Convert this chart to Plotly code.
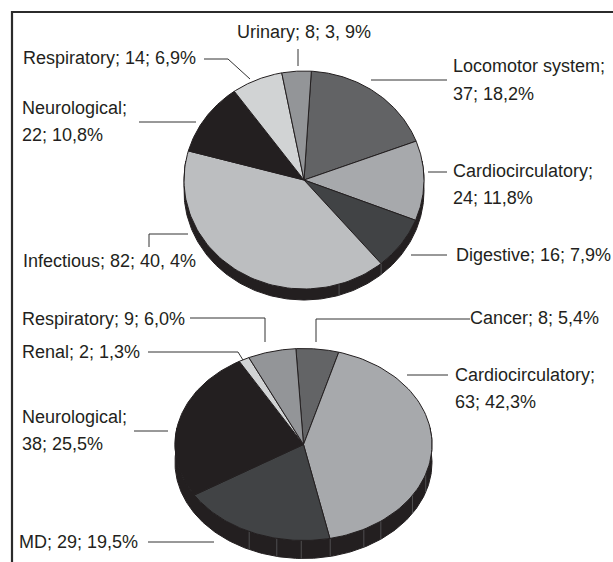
import numpy as np
import plotly.graph_objects as go

# --- data ---
top_names = ["Locomotor system", "Cardiocirculatory", "Digestive", "Infectious",
             "Neurological", "Respiratory", "Urinary"]
top_counts = [37, 24, 16, 82, 22, 14, 8]
top_colors = ["#626365", "#a7a9ac", "#414345", "#bcbec0", "#231f20", "#d1d3d4", "#939598"]

bottom_names = ["Cancer", "Cardiocirculatory", "MD", "Neurological", "Renal", "Respiratory"]
bottom_counts = [8, 63, 29, 38, 2, 9]
bottom_colors = ["#636466", "#a7a9ac", "#414345", "#231f20", "#d1d3d4", "#939598"]

label_text = ["Respiratory; 14; 6,9%", "Neurological;", "22; 10,8%", "Infectious; 82; 40, 4%",
              "Urinary; 8; 3, 9%", "Locomotor system;", "37; 18,2%", "Cardiocirculatory;",
              "24; 11,8%", "Digestive; 16; 7,9%",
              "Respiratory; 9; 6,0%", "Renal; 2; 1,3%", "Neurological;", "38; 25,5%",
              "MD; 29; 19,5%", "Cancer; 8; 5,4%", "Cardiocirculatory;", "63; 42,3%"]
label_x = [23, 22, 22, 23, 237, 453, 453, 453, 453, 456, 22, 22, 22, 22, 19, 470, 455, 455]
label_y = [59, 109, 136, 262, 33, 67, 95, 172, 199, 256, 320, 353, 418, 445, 543, 319, 376, 403]

leaders = [
    ([204, 228, 250], [59, 59, 79]),
    ([298, 298], [49, 66]),
    ([371, 447], [80, 80]),
    ([428, 447], [172, 172]),
    ([411, 447], [255, 255]),
    ([139, 196], [122, 122]),
    ([149, 149, 188], [247, 234, 234]),
    ([190, 265, 265], [318, 318, 342]),
    ([316, 316, 470], [342, 319, 319]),
    ([148, 238, 243], [352, 352, 360]),
    ([134, 168], [431, 431]),
    ([148, 214], [542, 542]),
    ([407, 448], [375, 375]),
]

INK = "#231f20"
fig = go.Figure()


def add_pie(names, counts, colors, cx, cy, rx, ry, depth, start_deg, seams):
    total = sum(counts)
    fracs = np.cumsum([0] + list(counts)) / total
    edges = start_deg + fracs * 360.0

    def pt(a, dz=0.0):
        r = np.radians(a)
        return cx + rx * np.sin(r), cy - ry * np.cos(r) + dz

    # side wall: the front half of the ellipse, dropped by depth
    a = np.linspace(80, 280, 200)
    x0, y0 = pt(a)
    x1, y1 = pt(a, depth)
    fig.add_trace(go.Scatter(
        x=np.r_[x0, x1[::-1], x0[0]], y=np.r_[y0, y1[::-1], y0[0]],
        mode="lines", fill="toself", fillcolor=INK,
        line=dict(color=INK, width=1), hoverinfo="skip", showlegend=False))
    # seams on the wall
    for s in seams:
        xa, ya = pt(s)
        xb, yb = pt(s, depth)
        fig.add_trace(go.Scatter(x=[xa, xb], y=[ya, yb], mode="lines",
                                 line=dict(color="#6d6e71", width=0.6),
                                 hoverinfo="skip", showlegend=False))
    # top face
    for i, name in enumerate(names):
        a = np.linspace(edges[i], edges[i + 1], 80)
        x, y = pt(a)
        fig.add_trace(go.Scatter(
            x=np.r_[cx, x, cx], y=np.r_[cy, y, cy], mode="lines", fill="toself",
            fillcolor=colors[i], line=dict(color=INK, width=1),
            name=name, text=f"{name}: {counts[i]}", hoverinfo="text", showlegend=False))


add_pie(top_names, top_counts, top_colors, 304, 180, 120, 109, 11, 3.5, [140, 163])
add_pie(bottom_names, bottom_counts, bottom_colors, 303.5, 444.5, 128.5, 96, 18, -3.4,
        [108, 122, 143, 152, 168, 181, 192, 205])

fig.add_trace(go.Scatter(
    x=label_x, y=label_y, text=label_text, mode="text", textposition="middle right",
    textfont=dict(family="Liberation Sans Narrow, Liberation Sans, sans-serif", size=18, color=INK),
    hoverinfo="skip", showlegend=False))

shapes = [
    dict(type="line", x0=11.5, x1=613, y0=12, y1=12, line=dict(color="#2b2b2b", width=2.2)),
    dict(type="line", x0=12, x1=12, y0=11, y1=562, line=dict(color="#2b2b2b", width=2.2)),
]
for xs, ys in leaders:
    path = "M " + " L ".join(f"{x} {y}" for x, y in zip(xs, ys))
    shapes.append(dict(type="path", path=path, line=dict(color="#333333", width=1)))

fig.update_layout(
    width=613, height=562, margin=dict(l=0, r=0, t=0, b=0),
    paper_bgcolor="white", plot_bgcolor="white", shapes=shapes, showlegend=False,
    xaxis=dict(range=[0, 613], visible=False, fixedrange=True),
    yaxis=dict(range=[562, 0], visible=False, fixedrange=True),
)
fig.write_html("out.html", config={"displayModeBar": False},
               post_script="document.body.style.margin='0';")
